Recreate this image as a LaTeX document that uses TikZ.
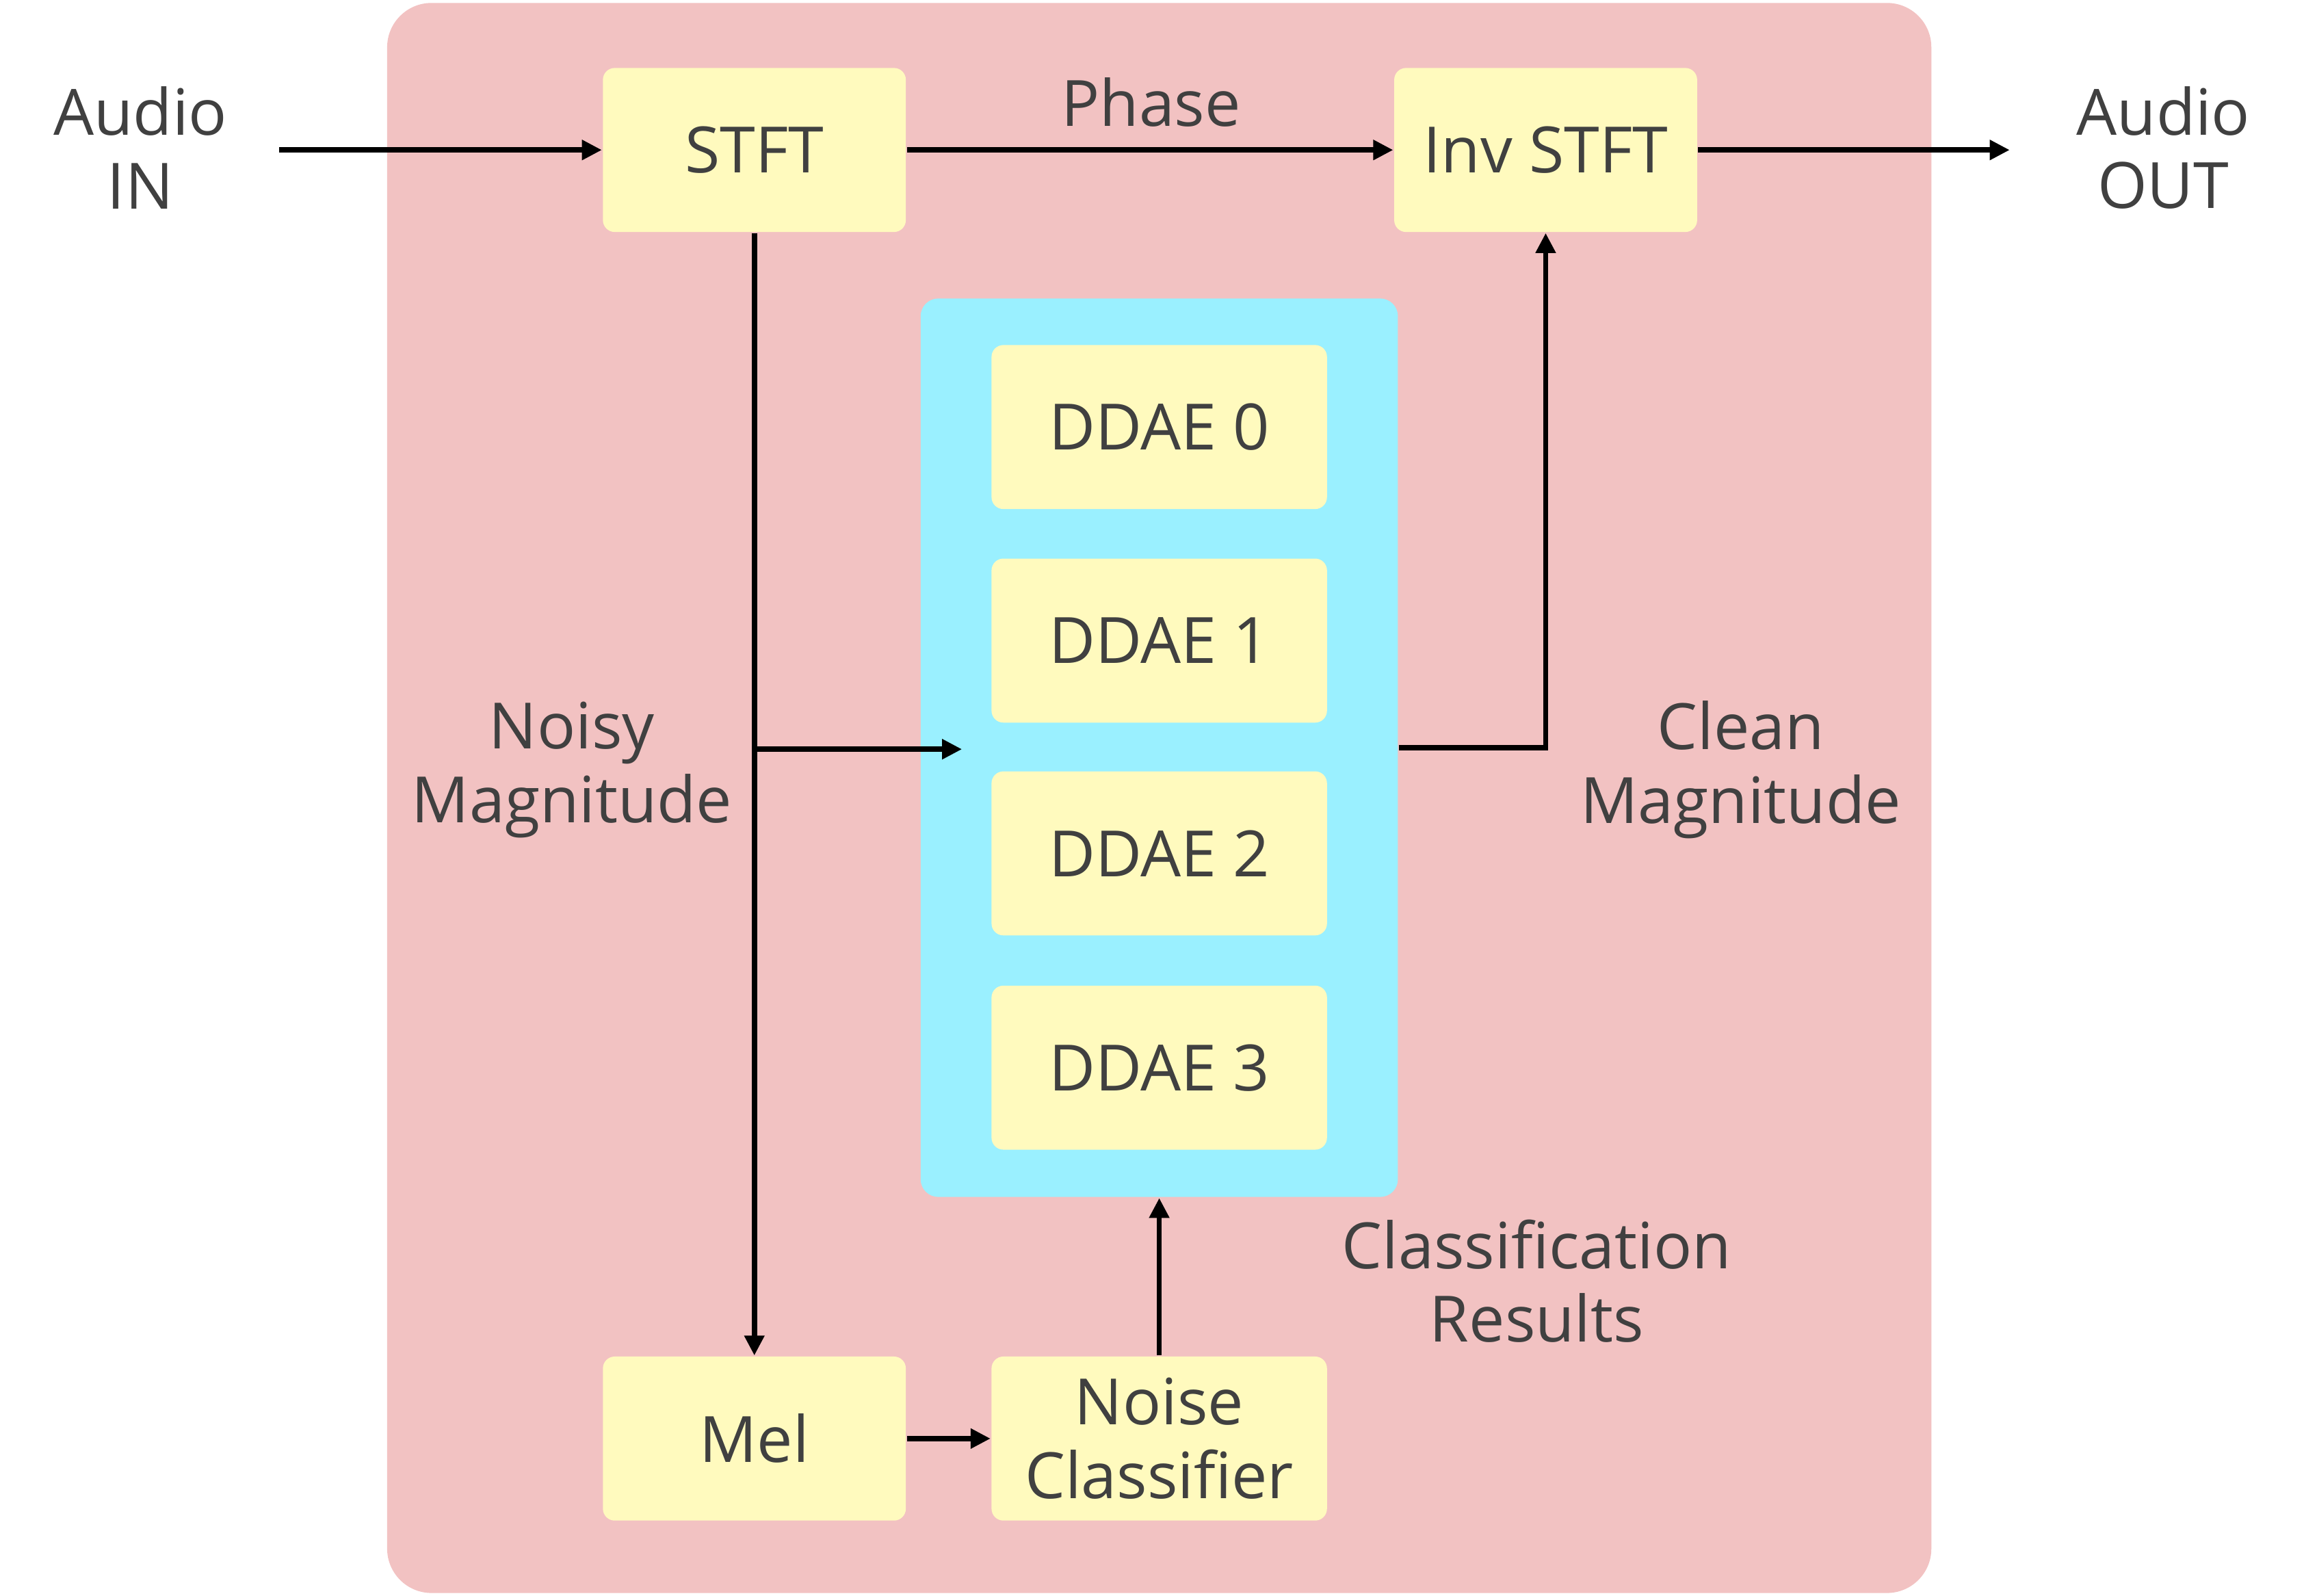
\documentclass[tikz,border=0pt]{standalone}
\usepackage{fontspec}
\setmainfont{Open Sans}
\usepackage{tikz}
\usetikzlibrary{arrows.meta}

\definecolor{panel}{RGB}{242,194,194}
\definecolor{stage}{RGB}{255,250,190}
\definecolor{bankfill}{RGB}{154,240,255}
\definecolor{ink}{RGB}{64,64,64}

\begin{document}
\begin{tikzpicture}[
    every node/.style={text=ink, font=\fontsize{12.3}{14.2}\selectfont, align=center},
    block/.style={fill=stage, rounded corners=0.8mm, minimum width=2.05cm, minimum height=1.11cm, inner sep=0pt},
    ddae/.style={block, minimum width=2.27cm},
    link/.style={draw=black, line width=1pt, -{Triangle[length=1.35mm, width=1.3mm]}}
  ]
  \useasboundingbox (0,0) rectangle (15.68,-10.80);
  \node[fill=panel, rounded corners=3mm, minimum width=10.45cm, minimum height=10.76cm, inner sep=0pt] (frame) at (7.845,-5.40) {};
  \node[fill=bankfill, rounded corners=1.2mm, minimum width=3.23cm, minimum height=6.08cm, inner sep=0pt] (bank) at (7.845,-5.06) {};

  \node[block] (STFT) at (5.105,-1.015) {STFT};
  \node[block] (INV) at (10.46,-1.015) {Inv STFT};
  \node[ddae] (D0) at (7.845,-2.89) {DDAE 0};
  \node[ddae] (D1) at (7.845,-4.335) {DDAE 1};
  \node[ddae] (D2) at (7.845,-5.775) {DDAE 2};
  \node[ddae] (D3) at (7.845,-7.225) {DDAE 3};
  \node[block] (MEL) at (5.105,-9.735) {Mel};
  \node[ddae] (NC) at (7.845,-9.735) {Noise\\Classifier};

  \node (IN) at (0.95,-1.00) {Audio\\IN};
  \node (OUT) at (14.64,-1.00) {Audio\\OUT};
  \node (PH) at (7.79,-0.69) {Phase};
  \node (NM) at (3.87,-5.21) {Noisy\\Magnitude};
  \node (CM) at (11.78,-5.21) {Clean\\Magnitude};
  \node (CR) at (10.40,-8.67) {Classification\\Results};

  \coordinate (src) at (1.89,-1.015);
  \coordinate (sink) at (13.60,-1.015);
  \coordinate (split) at (5.105,-5.07);
  \coordinate (bankin) at (6.51,-5.07);

  \draw[link] (src) -- (STFT);
  \draw[link] (STFT) -- (INV);
  \draw[link] (INV) -- (sink);
  \draw[link] (STFT) -- (MEL);
  \draw[link] (split) -- (bankin);
  \draw[link] (bank.east) -| (INV.south);
  \draw[link] (MEL) -- (NC);
  \draw[link] (NC) -- (bank.south);
\end{tikzpicture}
\end{document}
